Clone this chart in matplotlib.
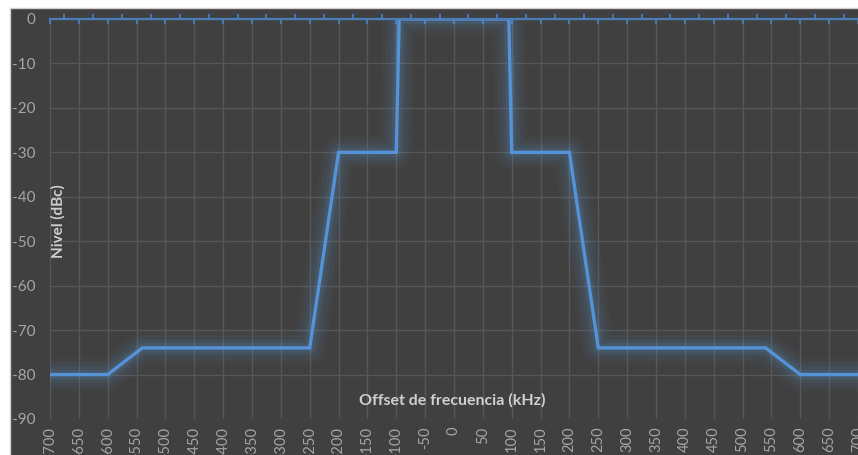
import matplotlib
matplotlib.use("Agg")
import matplotlib.pyplot as plt
from matplotlib.patches import Rectangle
import numpy as np

# ---- data ----
freq_khz = [-700, -600, -540, -250, -200, -100, -95, 95, 100, 200, 250, 540, 600, 700]
level_dbc = [-80, -80, -74, -74, -30, -30, 0, 0, -30, -30, -74, -74, -80, -80]
x_ticks = list(range(-700, 701, 50))
x_ticklabels = [str(v) for v in x_ticks]
y_ticks = list(range(-90, 1, 10))
y_ticklabels = [str(v) for v in y_ticks]
x_title = "Offset de frecuencia (kHz)"
y_title = "Nivel (dBc)"

W, H = 858, 455
plt.rcParams['font.family'] = ['Lato', 'DejaVu Sans']

fig = plt.figure(figsize=(W / 100, H / 100), dpi=100)
fig.patch.set_facecolor('white')

# chart area background
bg = Rectangle((10 / W, -0.01), 1.0, (H - 8) / H + 0.01,
               transform=fig.transFigure, facecolor='#404040',
               edgecolor='#d0d0d0', lw=1.0, zorder=-10)
fig.add_artist(bg)

ax = fig.add_axes([50 / W, 1 - 419 / H, 808 / W, 400 / H])
ax.set_zorder(1)
ax.set_facecolor('none')
ax.set_xlim(-700, 700)
ax.set_ylim(-90, 0)

for s in ['left', 'right', 'bottom']:
    ax.spines[s].set_visible(False)
ax.spines['top'].set_color('#4a7ebb')
ax.spines['top'].set_linewidth(1.6)
ax.spines['top'].set_zorder(6)

ax.set_xticks(x_ticks)
ax.set_xticklabels(x_ticklabels, rotation=90, va='top', ha='center')
ax.set_xticks([v + 25 for v in x_ticks[:-1]], minor=True)
ax.set_yticks(y_ticks)
ax.set_yticklabels(y_ticklabels)

ax.tick_params(axis='x', which='major', bottom=False, top=True, labelbottom=True,
               labeltop=False, direction='in', length=3.8, width=1.3,
               color='#4a7ebb', pad=5.5, labelsize=10.5, labelcolor='#a6a6a6')
ax.tick_params(axis='x', which='minor', bottom=False, top=True, direction='out',
               length=3.8, width=1.3, color='#4a7ebb')
ax.tick_params(axis='y', which='both', left=False, length=0, pad=10.5,
               labelsize=11, labelcolor='#a6a6a6')

ax.grid(True, which='major', color='#575757', lw=1.0)
ax.set_axisbelow(True)

# glow
for lw, a in [(24, 0.04), (18, 0.06), (12, 0.08), (7, 0.14)]:
    ax.plot(freq_khz, level_dbc, color='#5b9bd5', lw=lw, alpha=a,
            solid_joinstyle='round', solid_capstyle='round', zorder=3)
ax.plot(freq_khz, level_dbc, color='#5592d8', lw=2.4, zorder=4,
        solid_joinstyle='miter')

fig.text(452 / W, 1 - 400 / H, x_title, ha='center', va='center',
         fontsize=11.5, fontweight='bold', color='#d0d0d0', zorder=5)
fig.text(58 / W, 1 - 221 / H, y_title, ha='center', va='center', rotation=90,
         fontsize=11, fontweight='bold', color='#d0d0d0', zorder=5)

fig.savefig('out.png', dpi=100, facecolor=fig.get_facecolor())
